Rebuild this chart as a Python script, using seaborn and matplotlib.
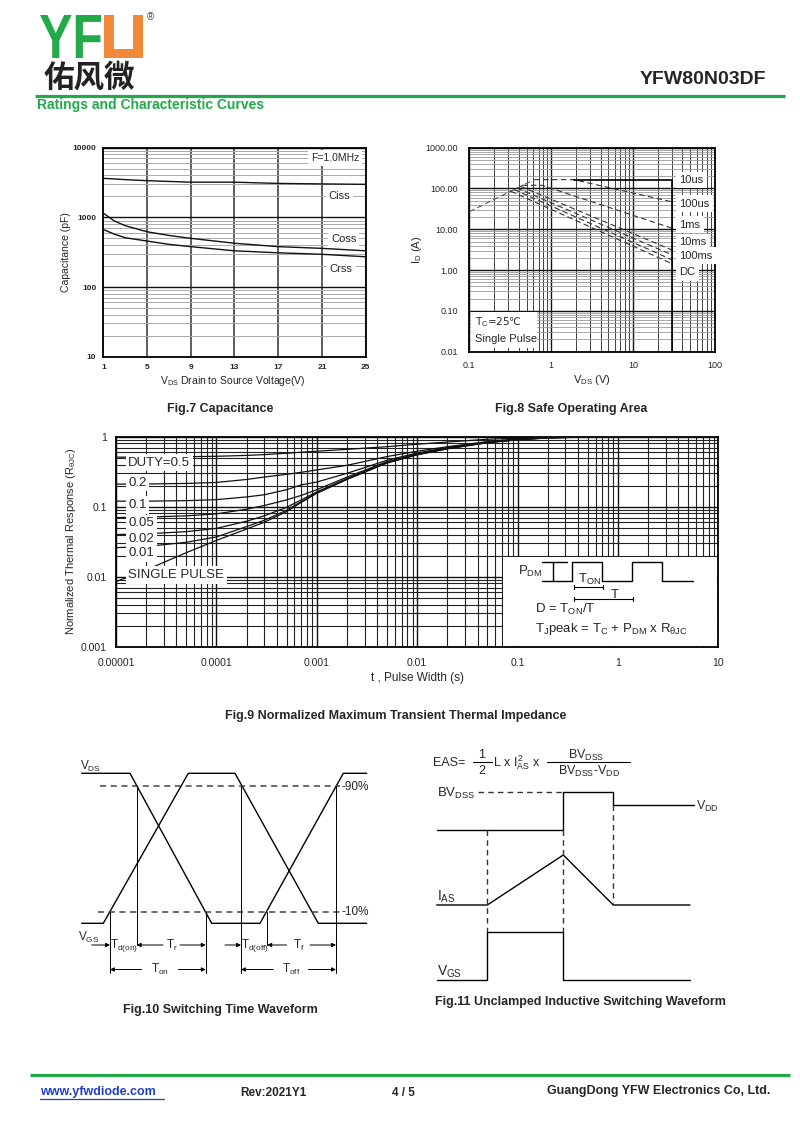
import numpy as np
import matplotlib
matplotlib.use('Agg')
import matplotlib.pyplot as plt
import seaborn as sns
from matplotlib.patches import Rectangle, PathPatch
from matplotlib.textpath import TextPath
from matplotlib.font_manager import FontProperties
from matplotlib.transforms import Affine2D
from matplotlib.ticker import LogLocator, NullFormatter

sns.set_style('white')
plt.rcParams['font.family'] = ['Liberation Sans', 'DejaVu Sans']
plt.rcParams['mathtext.fontset'] = 'custom'
plt.rcParams['mathtext.rm'] = 'Liberation Sans'
plt.rcParams['mathtext.it'] = 'Liberation Sans:italic'
plt.rcParams['mathtext.bf'] = 'Liberation Sans:bold'
plt.rcParams['axes.linewidth'] = 1.3
plt.rcParams['axes.edgecolor'] = 'black'

GREEN = '#22A94A'
ORANGE = '#F08A3A'

# Fig.7 capacitance vs VDS
cap_vds = [1, 2, 3, 5, 7, 9, 13, 17, 21, 25]
ciss = [3630, 3560, 3480, 3360, 3280, 3200, 3200, 3070, 3020, 2980]
coss = [1150, 890, 760, 622, 550, 500, 425, 380, 359, 331]
crss = [670, 575, 510, 457, 410, 380, 331, 310, 295, 272]
cap_xticks = [1, 5, 9, 13, 17, 21, 25]
cap_yticks = [10, 100, 1000, 10000]

# Fig.8 safe operating area
soa_rds_v = [0.1, 0.62]
soa_rds_i = [27, 165]
soa_names = ['10us', '100us', '1ms', '10ms', '100ms', 'DC']
soa_v = [[0.62, 1.88, 30], [0.44, 0.77, 30], [0.42, 30], [0.38, 30], [0.35, 30], [0.32, 30]]
soa_i = [[165, 165, 47], [120, 120, 10.6], [113, 3.1], [103, 2.36], [95, 1.78], [86, 1.43]]
soa_lim_v = [1.88, 30, 30]
soa_lim_i = [165, 165, 0.01]
soa_xticks = [0.1, 1, 10, 100]
soa_yticks = [0.01, 0.1, 1, 10, 100, 1000]

# Fig.9 transient thermal impedance
zth_t = [1e-5, 2e-5, 5e-5, 1e-4, 2e-4, 3e-4, 5e-4, 7e-4, 1e-3, 2e-3, 5e-3,
         1e-2, 2e-2, 5e-2, 0.1, 0.2, 0.5, 1, 10]
zth = {
    'DUTY=0.5': [0.51, 0.512, 0.518, 0.525, 0.54, 0.555, 0.58, 0.6, 0.62, 0.66, 0.72,
                 0.78, 0.84, 0.92, 0.95, 0.98, 0.995, 1.0, 1.0],
    '0.2': [0.21, 0.211, 0.215, 0.222, 0.245, 0.265, 0.29, 0.31, 0.335, 0.39, 0.52,
            0.62, 0.72, 0.85, 0.925, 0.972, 0.992, 1.0, 1.0],
    '0.1': [0.12, 0.12, 0.122, 0.126, 0.138, 0.148, 0.175, 0.205, 0.225, 0.3, 0.46,
            0.585, 0.7, 0.84, 0.92, 0.97, 0.99, 1.0, 1.0],
    '0.05': [0.07, 0.071, 0.074, 0.079, 0.092, 0.104, 0.125, 0.145, 0.175, 0.265, 0.44,
             0.57, 0.69, 0.835, 0.915, 0.967, 0.99, 1.0, 1.0],
    '0.02': [0.04, 0.041, 0.044, 0.049, 0.062, 0.074, 0.098, 0.125, 0.163, 0.253, 0.43,
             0.56, 0.68, 0.83, 0.91, 0.965, 0.99, 1.0, 1.0],
    '0.01': [0.026, 0.027, 0.031, 0.037, 0.052, 0.064, 0.089, 0.118, 0.158, 0.248, 0.425,
             0.555, 0.675, 0.825, 0.905, 0.962, 0.99, 1.0, 1.0],
    'SINGLE PULSE': [0.0085, 0.0125, 0.022, 0.033, 0.048, 0.06, 0.085, 0.115, 0.155, 0.245, 0.42,
                     0.55, 0.67, 0.82, 0.9, 0.96, 0.99, 1.0, 1.0],
}
zth_xticks = [1e-5, 1e-4, 1e-3, 1e-2, 0.1, 1, 10]
zth_xlabels = ['0.00001', '0.0001', '0.001', '0.01', '0.1', '1', '10']
zth_yticks = [0.001, 0.01, 0.1, 1]
zth_ylabels = ['0.001', '0.01', '0.1', '1']

# schematic waveforms, page pixel units
pulse_pts = [(541.7, 581), (571.7, 581), (571.7, 561.7), (601.7, 561.7), (601.7, 581),
             (632.3, 581), (632.3, 561.7), (662.3, 561.7), (662.3, 581), (692.7, 581)]
sw_vds = [(81.7, 773.3), (130, 773.3), (211.7, 923.3), (260, 923.3), (343.3, 773.3), (366.7, 773.3)]
sw_vgs = [(81.7, 923.3), (103.3, 923.3), (188.3, 773.3), (235, 773.3), (318.3, 923.3), (366.7, 923.3)]
sw_vlines = [(110, 911.7, 973.3), (136.7, 786, 945), (205.7, 911.7, 973.3),
             (241, 786, 973.3), (267.3, 911.7, 945), (336, 786, 973.3)]
uis_vds = [(436.7, 830), (563.3, 830), (563.3, 791.7), (613.3, 791.7), (613.3, 805), (690, 805)]
uis_ias = [(436.7, 905), (487.3, 905), (563.3, 855), (613.3, 905), (690, 905)]
uis_vgs = [(436.7, 980), (487.3, 980), (487.3, 931.7), (563.3, 931.7), (563.3, 980), (690, 980)]
uis_dash = [(487.3, 830, 931.7), (563.3, 830, 931.7), (613.3, 805, 903)]


def box(l, t, r, b):
    return [l / 800, 1 - b / 1129, (r - l) / 800, (b - t) / 1129]


fig = plt.figure(figsize=(8.0, 11.29), dpi=100)

# ---------------- Fig.7
ax7 = fig.add_axes(box(103.3, 147.7, 365.7, 356.7))
ax7.set_yscale('log')
for c in [ciss, coss, crss]:
    sns.lineplot(x=cap_vds, y=c, ax=ax7, color='#111111', lw=1.0, estimator=None, sort=False, zorder=3)
ax7.set_xlim(1, 25)
ax7.set_ylim(10, 10000)
ax7.set_xticks(cap_xticks)
ax7.set_xticklabels([str(v) for v in cap_xticks], fontsize=6, fontweight='bold')
ax7.set_yticks(cap_yticks)
ax7.set_yticklabels([str(v) for v in cap_yticks], fontsize=6, fontweight='bold')
ax7.yaxis.set_minor_locator(LogLocator(base=10, subs=np.arange(2, 10)))
ax7.yaxis.set_minor_formatter(NullFormatter())
ax7.tick_params(which='both', length=0)
ax7.tick_params(axis='x', pad=5)
ax7.tick_params(axis='y', pad=5)
ax7.grid(True, which='major', axis='x', color='#333333', lw=1.1)
ax7.grid(True, which='major', axis='y', color='#111111', lw=1.0)
ax7.grid(True, which='minor', axis='y', color='#aaaaaa', lw=0.7)
ax7.set_ylabel('Capacitance (pF)', fontsize=7.5, labelpad=1)
ax7.text(0.493, -0.118, r'V$_\mathrm{DS}$ Drain to Source Voltage(V)', transform=ax7.transAxes,
         ha='center', va='center', fontsize=7.5)
wbox = dict(boxstyle='square,pad=0.25', fc='white', ec='none')
ax7.text(0.883, 0.951, 'F=1.0MHz', transform=ax7.transAxes, ha='center', va='center', fontsize=7.5, bbox=wbox, zorder=5)
ax7.text(0.899, 0.769, 'Ciss', transform=ax7.transAxes, ha='center', va='center', fontsize=8, bbox=wbox, zorder=5)
ax7.text(0.916, 0.563, 'Coss', transform=ax7.transAxes, ha='center', va='center', fontsize=8, bbox=wbox, zorder=5)
ax7.text(0.907, 0.42, 'Crss', transform=ax7.transAxes, ha='center', va='center', fontsize=8, bbox=wbox, zorder=5)

# ---------------- Fig.8
ax8 = fig.add_axes(box(469.3, 147.7, 715, 351.7))
ax8.set_xscale('log')
ax8.set_yscale('log')
sns.lineplot(x=soa_rds_v, y=soa_rds_i, ax=ax8, color='#555555', lw=0.8, linestyle=(0, (5, 3)),
             estimator=None, sort=False, zorder=3)
for v, i in zip(soa_v, soa_i):
    sns.lineplot(x=v, y=i, ax=ax8, color='#333333', lw=0.8, linestyle=(0, (5, 3)),
                 estimator=None, sort=False, zorder=3)
sns.lineplot(x=soa_lim_v, y=soa_lim_i, ax=ax8, color='black', lw=1.2, estimator=None, sort=False, zorder=3)
ax8.set_xlim(0.1, 100)
ax8.set_ylim(0.01, 1000)
ax8.set_xticks(soa_xticks)
ax8.set_xticklabels(['0.1', '1', '10', '100'], fontsize=6.5)
ax8.set_yticks(soa_yticks)
ax8.set_yticklabels(['%.2f' % v for v in soa_yticks], fontsize=6.5)
for a in [ax8.xaxis, ax8.yaxis]:
    a.set_minor_locator(LogLocator(base=10, subs=np.arange(2, 10), numticks=50))
    a.set_minor_formatter(NullFormatter())
ax8.tick_params(which='both', length=0)
ax8.tick_params(axis='x', pad=7)
ax8.tick_params(axis='y', pad=8)
ax8.grid(True, which='major', color='#111111', lw=1.0)
ax8.grid(True, which='minor', axis='x', color='#222222', lw=0.6)
ax8.grid(True, which='minor', axis='y', color='#999999', lw=0.6)
ax8.set_ylabel(r'I$_\mathrm{D}$ (A)', fontsize=8, labelpad=1)
ax8.set_xlabel(r'V$_\mathrm{DS}$ (V)', fontsize=8, labelpad=2)
soa_label_y = [0.842, 0.725, 0.623, 0.538, 0.470, 0.389]
for name, yy in zip(soa_names, soa_label_y):
    ax8.text(0.855, yy, name, transform=ax8.transAxes, ha='left', va='center', fontsize=8,
             bbox=dict(boxstyle='square,pad=0.3', fc='white', ec='none'), zorder=5)
ax8.add_patch(Rectangle((0.006, 0.016), 0.27, 0.18, transform=ax8.transAxes, fc='white', ec='none', zorder=4))
ax8.text(0.025, 0.147, r'T$_\mathrm{C}$=25℃', transform=ax8.transAxes, ha='left', va='center',
         fontsize=7.5, family='DejaVu Sans', zorder=5)
ax8.text(0.025, 0.062, 'Single Pulse', transform=ax8.transAxes, ha='left', va='center', fontsize=8, zorder=5)

# ---------------- Fig.9
ax9 = fig.add_axes(box(116, 436.7, 718.3, 646.7))
ax9.set_xscale('log')
ax9.set_yscale('log')
for name, vals in zth.items():
    sns.lineplot(x=zth_t, y=vals, ax=ax9, color='#111111', lw=0.9, estimator=None, sort=False, zorder=3)
ax9.set_xlim(1e-5, 10)
ax9.set_ylim(0.001, 1)
ax9.set_xticks(zth_xticks)
ax9.set_xticklabels(zth_xlabels, fontsize=7.5)
ax9.set_yticks(zth_yticks)
ax9.set_yticklabels(zth_ylabels, fontsize=7.5)
for a in [ax9.xaxis, ax9.yaxis]:
    a.set_minor_locator(LogLocator(base=10, subs=np.arange(2, 10), numticks=100))
    a.set_minor_formatter(NullFormatter())
ax9.tick_params(which='both', length=0)
ax9.tick_params(axis='x', pad=8)
ax9.tick_params(axis='y', pad=6.5)
ax9.grid(True, which='major', color='#111111', lw=1.0)
ax9.grid(True, which='minor', color='#222222', lw=0.8)
ax9.set_ylabel(r'Normalized Thermal Response (R$_\mathrm{θJC}$)', fontsize=8, labelpad=2)
ax9.set_xlabel('t , Pulse Width (s)', fontsize=8.5, labelpad=3)
zth_label_y = [0.877, 0.781, 0.675, 0.588, 0.511, 0.445, 0.341]
for name, yy in zip(zth.keys(), zth_label_y):
    ax9.text(0.0204, yy, name, transform=ax9.transAxes, ha='left', va='center', fontsize=9.5,
             bbox=dict(boxstyle='square,pad=0.2', fc='white', ec='none'), zorder=5)

# ---------------- page overlay (pixel coordinates)
ov = fig.add_axes([0, 0, 1, 1])
ov.set_xlim(0, 800)
ov.set_ylim(1129, 0)
ov.axis('off')

# header
fp_logo = FontProperties(family='Liberation Sans', weight='bold')
tp = TextPath((0, 0), 'YF', size=50, prop=fp_logo)
ext = tp.get_extents()
tr = Affine2D().translate(-ext.x0, -ext.y0).scale(61 / ext.width, -43 / ext.height).translate(40, 58)
ov.add_patch(PathPatch(tr.transform_path(tp), fc=GREEN, ec='none'))
ov.add_patch(Rectangle((104, 15), 39, 43, fc=ORANGE, ec='none'))
ov.add_patch(Rectangle((114, 15), 19, 34, fc='white', ec='none'))
ov.text(150, 17, '®', fontsize=7, ha='center', va='center', color='#444444')
ov.text(44, 78, '佑风微', fontsize=22, family=['Noto Sans CJK SC', 'DejaVu Sans'], fontweight='bold',
        ha='left', va='center', color='#222222')
ov.text(766, 80, 'YFW80N03DF', fontsize=14, fontweight='bold', ha='right', va='center')
ov.plot([35, 785], [96, 96], color=GREEN, lw=2.3, solid_capstyle='butt')
ov.text(37, 105, 'Ratings and Characteristic Curves', fontsize=10, fontweight='bold', color=GREEN,
        ha='left', va='center')

# footer
ov.plot([30, 790], [1075, 1075], color=GREEN, lw=2.3, solid_capstyle='butt')
ov.text(40, 1092, 'www.yfwdiode.com', fontsize=9, fontweight='bold', color='#1F3FC6', ha='left', va='center')
ov.plot([40, 164], [1098.5, 1098.5], color='#1F3FC6', lw=0.9)
ov.text(240, 1093, 'Rev:2021Y1', fontsize=8.5, fontweight='bold', ha='left', va='center')
ov.text(392, 1093, '4 / 5', fontsize=8.5, fontweight='bold', ha='left', va='center')
ov.text(770, 1091, 'GuangDong YFW Electronics Co, Ltd.', fontsize=9, fontweight='bold', ha='right', va='center')

# captions
cap_kw = dict(fontsize=9, fontweight='bold', ha='center', va='center')
ov.text(220, 409, 'Fig.7 Capacitance', **cap_kw)
ov.text(571, 409, 'Fig.8 Safe Operating Area', **cap_kw)
ov.text(396, 716, 'Fig.9 Normalized Maximum Transient Thermal Impedance', **cap_kw)
ov.text(220, 1010, 'Fig.10 Switching Time Waveform', **cap_kw)
ov.text(580, 1002, 'Fig.11 Unclamped Inductive Switching Waveform', **cap_kw)

# Fig.9 inset
ov.add_patch(Rectangle((502.7, 556.7), 214.6, 89.1, fc='white', ec='none'))
ov.plot([p[0] for p in pulse_pts], [p[1] for p in pulse_pts], color='black', lw=1.0)
ov.plot([541.7, 566.7], [561.7, 561.7], color='black', lw=1.0)
ov.plot([552.7, 552.7], [561.7, 581], color='black', lw=1.0)
ins_kw = dict(fontsize=9.5, va='center')
ov.text(518, 571, r'P$_\mathrm{DM}$', ha='left', **ins_kw)
ov.text(590, 579, r'T$_\mathrm{ON}$', ha='center', **ins_kw)
ov.text(615, 594.5, 'T', ha='center', **ins_kw)
for x0, x1, yy in [(574, 603.3, 587), (574, 633.3, 599)]:
    ov.plot([x0, x1], [yy, yy], color='black', lw=0.8)
    ov.plot([x0, x0], [yy - 2, yy + 2], color='black', lw=0.8)
    ov.plot([x1, x1], [yy - 2, yy + 2], color='black', lw=0.8)
ov.text(535, 609.5, r'D = T$_\mathrm{ON}$/T', ha='left', **ins_kw)
ov.text(535, 629, r'T$_\mathrm{J}$peak = T$_\mathrm{C}$ + P$_\mathrm{DM}$ x R$_\mathrm{θJC}$', ha='left', **ins_kw)

# Fig.10 switching waveform
ov.plot([p[0] for p in sw_vds], [p[1] for p in sw_vds], color='black', lw=1.0)
ov.plot([p[0] for p in sw_vgs], [p[1] for p in sw_vgs], color='black', lw=1.0)
ov.plot([100, 340], [786, 786], color='#444444', lw=1.1, linestyle=(0, (4, 3)))
ov.plot([98.3, 340], [911.7, 911.7], color='#444444', lw=1.1, linestyle=(0, (4, 3)))
ov.text(341, 786.5, '-90%', fontsize=8.5, ha='left', va='center', color='#222222')
ov.text(341, 912, '-10%', fontsize=8.5, ha='left', va='center', color='#222222')
for xx, y0, y1 in sw_vlines:
    ov.plot([xx, xx], [y0, y1], color='black', lw=0.7)
ov.text(80, 766, r'V$_\mathrm{DS}$', fontsize=8.5, ha='left', va='center')
ov.text(78, 937, r'V$_\mathrm{GS}$', fontsize=8.5, ha='left', va='center')
arr_kw = dict(arrowstyle='-|>', color='black', lw=0.7, mutation_scale=6, shrinkA=0, shrinkB=0)
for x0, x1, yy in [(91.7, 110, 945), (163, 136.7, 945), (180, 205.7, 945), (225, 241, 945),
                   (286.7, 267.3, 945), (310, 336, 945), (141.7, 110, 969.5), (178.3, 205.7, 969.5),
                   (273.3, 241, 969.5), (308.3, 336, 969.5)]:
    ov.annotate('', xy=(x1, yy), xytext=(x0, yy), arrowprops=arr_kw)
sub_kw = dict(fontsize=8.5, ha='center', va='center')
ov.text(124, 945, r'T$_\mathrm{d(on)}$', **sub_kw)
ov.text(171.7, 945, r'T$_\mathrm{r}$', **sub_kw)
ov.text(254.7, 945, r'T$_\mathrm{d(off)}$', **sub_kw)
ov.text(298.5, 945, r'T$_\mathrm{f}$', **sub_kw)
ov.text(160, 969.5, r'T$_\mathrm{on}$', **sub_kw)
ov.text(291, 969.5, r'T$_\mathrm{off}$', **sub_kw)

# Fig.11 unclamped inductive switching
f_kw = dict(fontsize=9, va='center')
ov.text(433, 763, 'EAS=', ha='left', **f_kw)
ov.plot([472.5, 491.5], [762.3, 762.3], color='black', lw=0.8)
ov.text(482, 755.5, '1', ha='center', **f_kw)
ov.text(482, 771, '2', ha='center', **f_kw)
ov.text(493, 763, r'L x I$_\mathrm{AS}^{\,2}$ x', ha='left', **f_kw)
ov.plot([546.7, 630], [762.3, 762.3], color='black', lw=0.8)
ov.text(586, 755, r'BV$_\mathrm{DSS}$', ha='center', **f_kw)
ov.text(589, 771.5, r'BV$_\mathrm{DSS}$-V$_\mathrm{DD}$', ha='center', **f_kw)
for pts in [uis_vds, uis_ias, uis_vgs]:
    ov.plot([p[0] for p in pts], [p[1] for p in pts], color='black', lw=1.0)
ov.plot([478.3, 563.3], [791.7, 791.7], color='#333333', lw=1.0, linestyle=(0, (4, 3)))
for xx, y0, y1 in uis_dash:
    ov.plot([xx, xx], [y0, y1], color='#333333', lw=1.0, linestyle=(0, (4, 3)))
ov.plot([690, 694], [805, 805], color='black', lw=1.0)
ov.text(437, 793, r'BV$_\mathrm{DSS}$', fontsize=9.5, ha='left', va='center')
ov.text(696, 806.5, r'V$_\mathrm{DD}$', fontsize=9, ha='left', va='center')
ov.text(437, 897, r'I$_\mathrm{AS}$', fontsize=10, ha='left', va='center')
ov.text(437, 972, r'V$_\mathrm{GS}$', fontsize=10, ha='left', va='center')

fig.savefig('out.png', dpi=100)
